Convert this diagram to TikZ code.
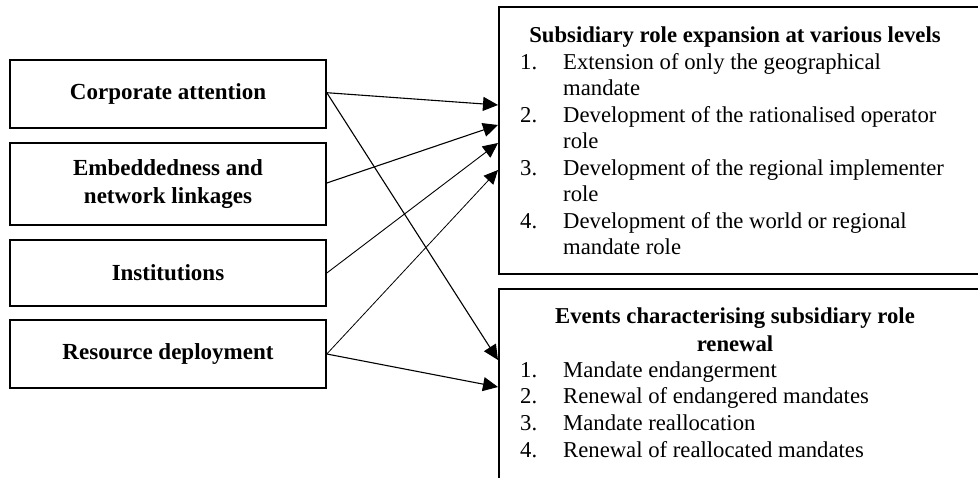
\documentclass[tikz,border=0pt]{standalone}
\usepackage{fontspec}
\setmainfont{Liberation Serif}
\usetikzlibrary{arrows.meta,calc}

\begin{document}
\begin{tikzpicture}[x=1pt,y=-1pt,
  srcbox/.style={draw, line width=1.6pt, minimum width=316pt, inner sep=0pt,
    align=center, font=\fontsize{23}{27.5}\selectfont\bfseries},
  tgtbox/.style={draw, line width=1.6pt, anchor=north west, inner sep=0pt},
  itemtxt/.style={anchor=base west, inner sep=0pt, font=\fontsize{22.7}{27}\selectfont},
  headtxt/.style={anchor=base, inner sep=0pt, font=\fontsize{22.7}{27}\selectfont\bfseries},
  link/.style={-{Triangle[length=15pt,width=14pt]}, line width=1.1pt},
  thinlink/.style={-{Triangle[length=14pt,width=13pt]}, line width=0.8pt},
]
\useasboundingbox (0,0) rectangle (978,477);

% factor boxes on the left
\node[srcbox, minimum height=68pt] (ca) at (168,94)  {Corporate attention};
\node[srcbox, minimum height=82pt] (en) at (168,184) {Embeddedness and\\network linkages};
\node[srcbox, minimum height=66pt] (in) at (168,273) {Institutions};
\node[srcbox, minimum height=68pt] (rd) at (168,354) {Resource deployment};

% outcome boxes on the right
\node[tgtbox, minimum width=500pt, minimum height=267pt] (rb1) at (498,6) {};
\node[tgtbox, minimum width=500pt, minimum height=200pt] (rb2) at (498,288) {};

% role expansion
\node[headtxt] (h1) at (735,42) {Subsidiary role expansion at various levels};
\node[itemtxt] (n11) at (520,69)    {1.};
\node[itemtxt] (t11) at (563,69)    {Extension of only the geographical};
\node[itemtxt] (t11b) at (563,95.5) {mandate};
\node[itemtxt] (n12) at (520,122)   {2.};
\node[itemtxt] (t12) at (563,122)   {Development of the rationalised operator};
\node[itemtxt] (t12b) at (563,148.5){role};
\node[itemtxt] (n13) at (520,175)   {3.};
\node[itemtxt] (t13) at (563,175)   {Development of the regional implementer};
\node[itemtxt] (t13b) at (563,201.5){role};
\node[itemtxt] (n14) at (520,228)   {4.};
\node[itemtxt] (t14) at (563,228)   {Development of the world or regional};
\node[itemtxt] (t14b) at (563,254.5){mandate role};

% role renewal
\node[headtxt] (h2a) at (735,323) {Events characterising subsidiary role};
\node[headtxt] (h2b) at (735,351) {renewal};
\node[itemtxt] (n21) at (520,377) {1.};
\node[itemtxt] (t21) at (563,377) {Mandate endangerment};
\node[itemtxt] (n22) at (520,403) {2.};
\node[itemtxt] (t22) at (563,403) {Renewal of endangered mandates};
\node[itemtxt] (n23) at (520,430) {3.};
\node[itemtxt] (t23) at (563,430) {Mandate reallocation};
\node[itemtxt] (n24) at (520,457) {4.};
\node[itemtxt] (t24) at (563,457) {Renewal of reallocated mandates};

% influences
\draw[link] ($(ca.east)+(0,-1.3)$) -- ($(rb1.north west)+(0,99)$);
\draw[link] ($(ca.east)+(0,-1.3)$) -- ($(rb2.north west)+(0,72)$);
\draw[link] ($(en.east)+(0,-1)$) -- ($(rb1.north west)+(0,119)$);
\draw[link, line width=0.9pt] (in.east) -- ($(rb1.north west)+(0,137)$);
\draw[thinlink] (rd.east) -- ($(rb1.north west)+(0,164)$);
\draw[link] (rd.east) -- ($(rb2.north west)+(0,99)$);
\end{tikzpicture}
\end{document}
